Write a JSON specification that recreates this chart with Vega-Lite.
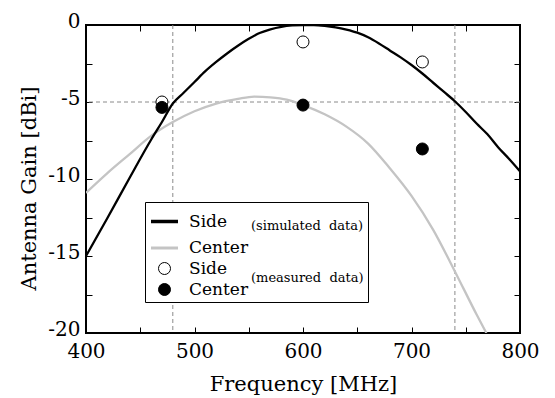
{
  "$schema": "https://vega.github.io/schema/vega-lite/v6.json",
  "width": 434,
  "height": 308,
  "autosize": {"type": "none"},
  "padding": {"left": 86, "top": 25, "right": 35, "bottom": 65},
  "background": "white",
  "config": {
    "view": {"stroke": "black", "strokeWidth": 2},
    "font": "DejaVu Serif",
    "axis": {
      "grid": false,
      "domain": false,
      "tickColor": "black",
      "tickWidth": 1,
      "tickSize": -6,
      "labelColor": "black",
      "titleColor": "black",
      "labelFont": "DejaVu Serif",
      "titleFont": "DejaVu Serif",
      "titleFontWeight": "normal",
      "labelFontSize": 20,
      "titleFontSize": 21
    },
    "legend": {
      "orient": "none",
      "legendX": 59,
      "legendY": 177,
      "strokeColor": "black",
      "fillColor": "white",
      "padding": 4,
      "labelFont": "DejaVu Serif",
      "labelFontSize": 17,
      "labelColor": "black",
      "labelOffset": 9,
      "titleFont": "DejaVu Serif",
      "titleFontSize": 13,
      "titleFontWeight": "normal",
      "titleColor": "black",
      "titleOrient": "right",
      "titleAnchor": "middle",
      "titleBaseline": "middle",
      "titleLineHeight": 52,
      "titlePadding": 3,
      "rowPadding": 3
    }
  },
  "datasets": {
    "vref": [{"f": 480}, {"f": 740}],
    "href": [{"g": -5}],
    "simCenter": [
      {"f": 400, "g": -10.9},
      {"f": 420, "g": -9.6},
      {"f": 440, "g": -8.4},
      {"f": 460, "g": -7.2},
      {"f": 480, "g": -6.3},
      {"f": 500, "g": -5.6},
      {"f": 520, "g": -5.1},
      {"f": 540, "g": -4.8},
      {"f": 555, "g": -4.65},
      {"f": 570, "g": -4.7},
      {"f": 585, "g": -4.85},
      {"f": 600, "g": -5.2},
      {"f": 620, "g": -5.8},
      {"f": 640, "g": -6.6},
      {"f": 660, "g": -7.7},
      {"f": 680, "g": -9.3},
      {"f": 700, "g": -11.1},
      {"f": 720, "g": -13.3},
      {"f": 740, "g": -16.0},
      {"f": 760, "g": -18.8},
      {"f": 769, "g": -20.0}
    ],
    "simSide": [
      {"f": 400, "g": -15.0},
      {"f": 420, "g": -12.5},
      {"f": 440, "g": -9.95},
      {"f": 460, "g": -7.45},
      {"f": 470, "g": -6.3},
      {"f": 480, "g": -5.1},
      {"f": 490, "g": -4.4},
      {"f": 500, "g": -3.7},
      {"f": 510, "g": -3.0},
      {"f": 520, "g": -2.4},
      {"f": 530, "g": -1.85},
      {"f": 540, "g": -1.35},
      {"f": 550, "g": -0.9},
      {"f": 560, "g": -0.52},
      {"f": 570, "g": -0.28},
      {"f": 580, "g": -0.12},
      {"f": 590, "g": -0.03},
      {"f": 600, "g": 0.0},
      {"f": 610, "g": 0.0},
      {"f": 620, "g": -0.05},
      {"f": 630, "g": -0.15},
      {"f": 640, "g": -0.3},
      {"f": 650, "g": -0.5},
      {"f": 660, "g": -0.8},
      {"f": 670, "g": -1.2},
      {"f": 680, "g": -1.65},
      {"f": 690, "g": -2.1},
      {"f": 700, "g": -2.6},
      {"f": 710, "g": -3.15},
      {"f": 720, "g": -3.75},
      {"f": 730, "g": -4.35},
      {"f": 740, "g": -4.95},
      {"f": 750, "g": -5.65},
      {"f": 760, "g": -6.4},
      {"f": 770, "g": -7.1},
      {"f": 780, "g": -7.95},
      {"f": 790, "g": -8.7},
      {"f": 800, "g": -9.5}
    ],
    "meas": [
      {"series": "Side (meas)", "f": 470, "g": -5.0},
      {"series": "Side (meas)", "f": 600, "g": -1.1},
      {"series": "Side (meas)", "f": 710, "g": -2.4},
      {"series": "Center (meas)", "f": 470, "g": -5.35},
      {"series": "Center (meas)", "f": 600, "g": -5.2},
      {"series": "Center (meas)", "f": 710, "g": -8.05}
    ]
  },
  "layer": [
    {
      "data": {"name": "vref"},
      "mark": {"type": "rule", "color": "#8a8a8a", "strokeWidth": 1, "strokeDash": [4, 3]},
      "encoding": {
        "x": {
          "field": "f", "type": "quantitative",
          "scale": {"domain": [400, 800], "nice": false},
          "axis": {"orient": "top", "values": [400, 450, 500, 550, 600, 650, 700, 750, 800], "labels": false, "title": null}
        }
      }
    },
    {
      "data": {"name": "href"},
      "mark": {"type": "rule", "color": "#8a8a8a", "strokeWidth": 1, "strokeDash": [4, 3]},
      "encoding": {
        "y": {
          "field": "g", "type": "quantitative",
          "scale": {"domain": [-20, 0], "nice": false},
          "axis": {"orient": "right", "values": [-20, -17.5, -15, -12.5, -10, -7.5, -5, -2.5, 0], "labels": false, "title": null}
        }
      }
    },
    {
      "data": {"name": "simCenter"},
      "mark": {"type": "line", "interpolate": "monotone", "clip": true, "color": "#c4c4c4", "strokeWidth": 2.3},
      "encoding": {
        "x": {"field": "f", "type": "quantitative", "axis": null},
        "y": {"field": "g", "type": "quantitative", "axis": null}
      }
    },
    {
      "data": {"name": "simSide"},
      "mark": {"type": "line", "interpolate": "monotone", "clip": true, "color": "black", "strokeWidth": 2.3},
      "encoding": {
        "x": {
          "field": "f", "type": "quantitative",
          "scale": {"domain": [400, 800], "nice": false},
          "axis": {
            "orient": "bottom",
            "values": [400, 450, 500, 550, 600, 650, 700, 750, 800],
            "labelExpr": "datum.value % 100 == 0 ? datum.label : ''",
            "labelFlush": false,
            "labelPadding": 14,
            "title": "Frequency [MHz]",
            "titleBaseline": "alphabetic",
            "titleY": 57
          }
        },
        "y": {
          "field": "g", "type": "quantitative",
          "scale": {"domain": [-20, 0], "nice": false},
          "axis": {
            "orient": "left",
            "values": [-20, -17.5, -15, -12.5, -10, -7.5, -5, -2.5, 0],
            "labelExpr": "datum.value % 5 == 0 ? '' + datum.value : ''",
            "labelPadding": 12,
            "labelOffset": -4,
            "labelFlush": false,
            "title": "Antenna Gain [dBi]",
            "titleBaseline": "alphabetic",
            "titleX": -51,
            "titleY": 163
          }
        }
      }
    },
    {
      "data": {"name": "meas"},
      "mark": {"type": "point", "filled": true, "opacity": 1},
      "encoding": {
        "x": {"field": "f", "type": "quantitative", "axis": null},
        "y": {"field": "g", "type": "quantitative", "axis": null},
        "stroke": {
          "field": "series", "type": "nominal",
          "title": ["(simulated\u00a0 data)", "(measured\u00a0 data)"],
          "scale": {"domain": ["Side (sim)", "Center (sim)", "Side (meas)", "Center (meas)"], "range": ["black", "#c4c4c4", "black", "black"]},
          "legend": {"labelExpr": "split(datum.label, ' ')[0]"}
        },
        "strokeWidth": {
          "field": "series", "type": "nominal",
          "title": ["(simulated\u00a0 data)", "(measured\u00a0 data)"],
          "scale": {"type": "ordinal", "domain": ["Side (sim)", "Center (sim)", "Side (meas)", "Center (meas)"], "range": [3.5, 3, 1, 1]},
          "legend": {"labelExpr": "split(datum.label, ' ')[0]"}
        },
        "fill": {
          "field": "series", "type": "nominal",
          "title": ["(simulated\u00a0 data)", "(measured\u00a0 data)"],
          "scale": {"domain": ["Side (sim)", "Center (sim)", "Side (meas)", "Center (meas)"], "range": ["transparent", "transparent", "white", "black"]},
          "legend": {"labelExpr": "split(datum.label, ' ')[0]"}
        },
        "shape": {
          "field": "series", "type": "nominal",
          "title": ["(simulated\u00a0 data)", "(measured\u00a0 data)"],
          "scale": {"domain": ["Side (sim)", "Center (sim)", "Side (meas)", "Center (meas)"], "range": ["stroke", "stroke", "circle", "circle"]},
          "legend": {"labelExpr": "split(datum.label, ' ')[0]"}
        },
        "size": {
          "field": "series", "type": "nominal",
          "title": ["(simulated\u00a0 data)", "(measured\u00a0 data)"],
          "scale": {"type": "ordinal", "domain": ["Side (sim)", "Center (sim)", "Side (meas)", "Center (meas)"], "range": [729, 729, 144, 144]},
          "legend": {"labelExpr": "split(datum.label, ' ')[0]"}
        }
      }
    }
  ]
}
